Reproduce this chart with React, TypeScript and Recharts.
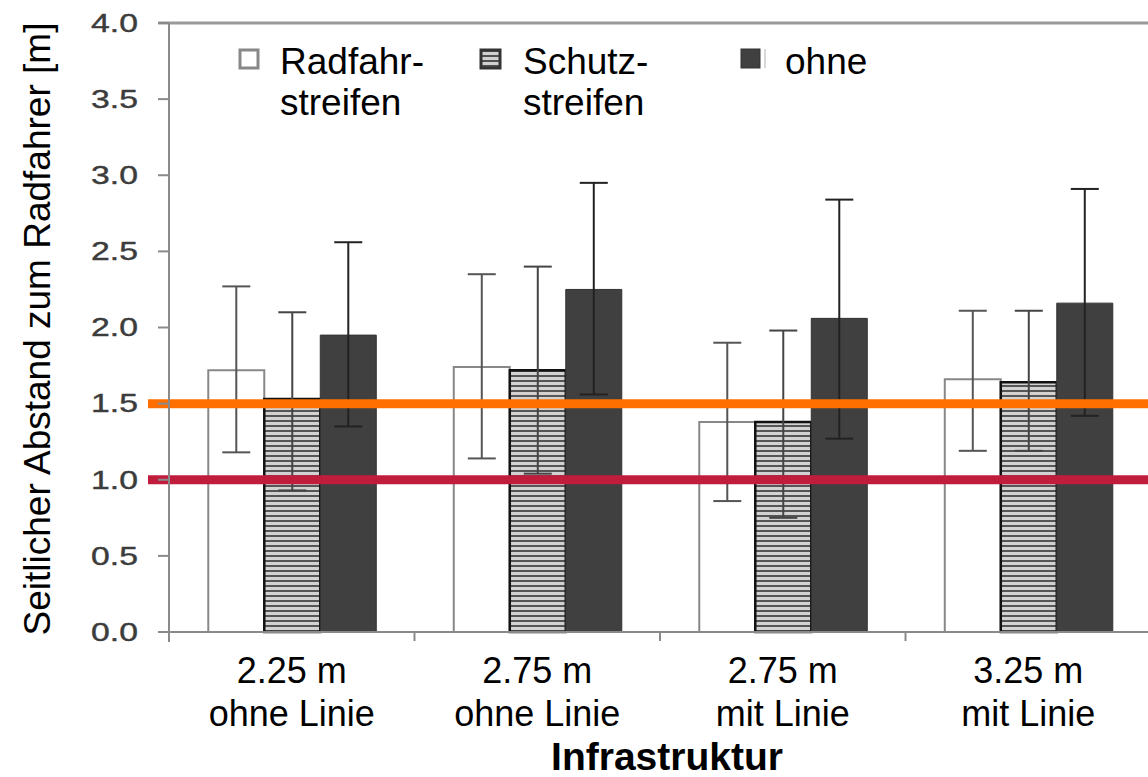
import { Bar, BarChart, ErrorBar, ReferenceLine, XAxis, YAxis } from "recharts";

// infrastructure variants (x categories)
const laneWidths = ["2.25 m", "2.75 m", "2.75 m", "3.25 m"];
const markings = ["ohne Linie", "ohne Linie", "mit Linie", "mit Linie"];

// mean lateral distance and the ends of the error bars [m]
const radfahr = [1.72, 1.74, 1.38, 1.66];
const radfahrLow = [1.18, 1.14, 0.86, 1.19];
const radfahrHigh = [2.27, 2.35, 1.9, 2.11];

const schutz = [1.53, 1.72, 1.38, 1.64];
const schutzLow = [0.93, 1.04, 0.75, 1.19];
const schutzHigh = [2.1, 2.4, 1.98, 2.11];

const ohne = [1.95, 2.25, 2.06, 2.16];
const ohneLow = [1.35, 1.56, 1.27, 1.42];
const ohneHigh = [2.56, 2.95, 2.84, 2.91];

const yTicks = [0, 0.5, 1, 1.5, 2, 2.5, 3, 3.5, 4];
const limits = [1.5, 1.0];

const FONT = "'Liberation Sans', Arial, sans-serif";
const W = 1160;
const H = 777;

const rows = laneWidths.map((w, i) => ({
  name: `${w}|${markings[i]}`,
  radfahr: radfahr[i],
  radfahrErr: [radfahr[i] - radfahrLow[i], radfahrHigh[i] - radfahr[i]],
  schutz: schutz[i],
  schutzErr: [schutz[i] - schutzLow[i], schutzHigh[i] - schutz[i]],
  ohne: ohne[i],
  ohneErr: [ohne[i] - ohneLow[i], ohneHigh[i] - ohne[i]],
}));

const legendItems = [
  { key: "radfahr", lines: ["Radfahr-", "streifen"] },
  { key: "schutz", lines: ["Schutz-", "streifen"] },
  { key: "ohne", lines: ["ohne"] },
];

function YTick(props: any) {
  const { x, y, payload } = props;
  const axisX = x + 31;
  return (
    <g>
      {payload.value === 0 && <line x1={axisX} x2={axisX} y1={y} y2={y + 10} stroke="#8a8a8a" strokeWidth={2} />}
      <g transform={`translate(${x},${y})`}>
        <text
          textAnchor="end"
          dy="0.35em"
          transform="scale(1.35,1)"
          fontSize={25}
          fill="#3c3c3c"
          stroke="#3c3c3c"
          strokeWidth={0.4}
          fontFamily={FONT}
        >
          {payload.value.toFixed(1)}
        </text>
      </g>
    </g>
  );
}

function XTick(props: any) {
  const { x, y, payload } = props;
  const half = payload.offset ?? 122.75;
  const [a, b] = String(payload.value).split("|");
  return (
    <g>
      <line x1={x - half} x2={x - half} y1={y} y2={y + 9} stroke="#8a8a8a" strokeWidth={2} />
      <text x={x} y={y + 51} textAnchor="middle" fontSize={36} fill="#000" fontFamily={FONT}>{a}</text>
      <text x={x} y={y + 94} textAnchor="middle" fontSize={36} fill="#000" fontFamily={FONT}>{b}</text>
    </g>
  );
}

function limitShape(color: string) {
  return (p: any) => <line x1={p.x1 - 21} x2={W} y1={p.y1} y2={p.y2} stroke={color} strokeWidth={9} />;
}

function LegendOverlay() {
  const boxX = [240, 481, 741];
  const textX = [280, 523, 785];
  return (
    <svg width={W} height={130} style={{ position: "absolute", left: 0, top: 0, pointerEvents: "none" }}>
      <defs>
        <pattern id="stripesLegend" width={5} height={5} patternUnits="userSpaceOnUse">
          <rect width={5} height={5} fill="#d0d0d0" />
          <rect width={5} height={2} fill="#505050" />
        </pattern>
      </defs>
      {legendItems.map((it, i) => (
        <g key={it.key}>
          {it.key === "radfahr" && <rect x={boxX[i]} y={50} width={18} height={18} fill="#fff" stroke="#888" strokeWidth={3} />}
          {it.key === "schutz" && <rect x={boxX[i]} y={50} width={19} height={18} fill="url(#stripesLegend)" stroke="#333" strokeWidth={3} />}
          {it.key === "ohne" && (
            <g>
              <rect x={boxX[i]} y={49} width={19} height={19} fill="#404040" stroke="#333" strokeWidth={1} />
              <line x1={boxX[i] + 24} x2={boxX[i] + 24} y1={49} y2={68} stroke="#d8d8d8" strokeWidth={2} />
            </g>
          )}
          {it.lines.map((l, j) => (
            <text key={j} x={textX[i]} y={74 + j * 41} fontSize={37} fill="#000" fontFamily={FONT}>{l}</text>
          ))}
        </g>
      ))}
    </svg>
  );
}

export default function App() {
  return (
    <div style={{ position: "absolute", left: 0, top: 0, width: 1148, height: H, overflow: "hidden", background: "#fff" }}>
      <BarChart
        width={W}
        height={H}
        data={rows}
        margin={{ top: 23, right: 9, left: 0, bottom: 45 }}
        barCategoryGap="16%"
        barGap={0}
      >
        <defs>
          <pattern id="stripes" width={5} height={5} patternUnits="userSpaceOnUse">
            <rect width={5} height={5} fill="#d2d2d2" />
            <rect width={5} height={2} fill="#555" />
          </pattern>
        </defs>
        <XAxis
          dataKey="name"
          height={100}
          axisLine={{ stroke: "#8a8a8a", strokeWidth: 2 }}
          tickLine={false}
          tickSize={0}
          tickMargin={0}
          interval={0}
          tick={<XTick />}
        />
        <YAxis
          width={169}
          domain={[0, 4]}
          ticks={yTicks}
          interval={0}
          axisLine={{ stroke: "#8a8a8a", strokeWidth: 2 }}
          tickLine={{ stroke: "#8a8a8a", strokeWidth: 2 }}
          tickSize={11}
          tickMargin={20}
          tick={<YTick />}
          label={{
            content: () => (
              <text
                transform="translate(37,329) rotate(-90)"
                textAnchor="middle"
                dy="0.35em"
                fontSize={37}
                fill="#000"
                fontFamily={FONT}
              >
                Seitlicher Abstand zum Radfahrer [m]
              </text>
            ),
          }}
        />
        <ReferenceLine
          y={4}
          shape={(p: any) => <line x1={p.x1 - 11} x2={W} y1={p.y1} y2={p.y2} stroke="#9a9a9a" strokeWidth={3} />}
        />
        <Bar dataKey="radfahr" name="Radfahrstreifen" fill="#fff" stroke="#888" strokeWidth={2} isAnimationActive={false}>
          <ErrorBar dataKey="radfahrErr" width={14} stroke="#555" strokeWidth={2} direction="y" />
        </Bar>
        <Bar dataKey="schutz" name="Schutzstreifen" fill="url(#stripes)" stroke="#111" strokeWidth={2.5} isAnimationActive={false}>
          <ErrorBar dataKey="schutzErr" width={14} stroke="#444" strokeWidth={2} direction="y" />
        </Bar>
        <Bar dataKey="ohne" name="ohne" fill="#404040" stroke="#333" strokeWidth={1} isAnimationActive={false}>
          <ErrorBar dataKey="ohneErr" width={14} stroke="#222" strokeWidth={2} direction="y" />
        </Bar>
        <ReferenceLine y={limits[0]} shape={limitShape("#ff6f00")} />
        <ReferenceLine y={limits[1]} shape={limitShape("#c01c3c")} />
      </BarChart>
      <LegendOverlay />
      <svg width={1148} height={H} style={{ position: "absolute", left: 0, top: 0, pointerEvents: "none" }}>
        <text x={667} y={770} textAnchor="middle" fontSize={39} fontWeight="bold" fill="#000" fontFamily={FONT}>
          Infrastruktur
        </text>
      </svg>
    </div>
  );
}
